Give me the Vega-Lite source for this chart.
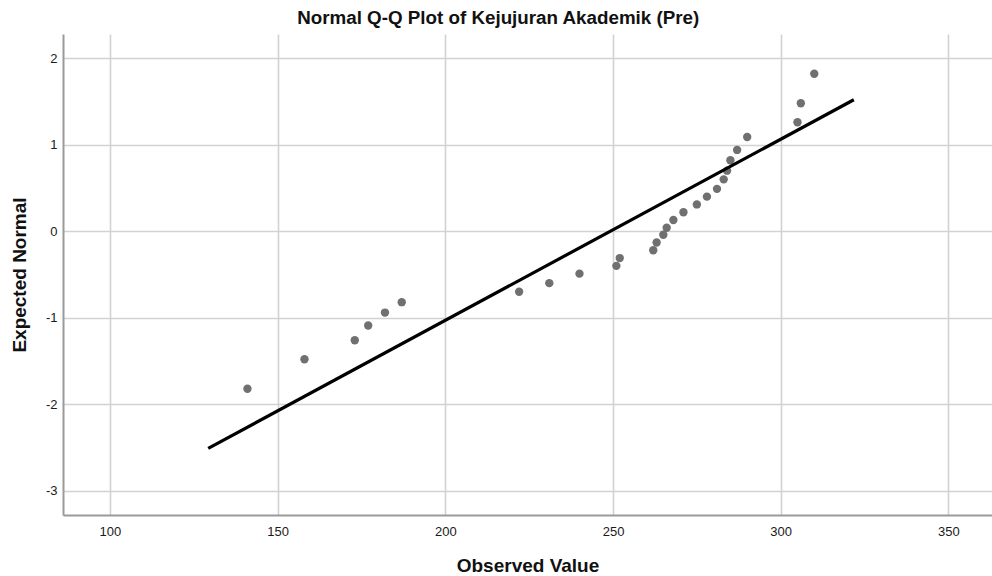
{
  "$schema": "https://vega.github.io/schema/vega-lite/v6.json",
  "autosize": {"type": "none"},
  "width": 929,
  "height": 481,
  "padding": {"left": 63, "top": 34, "right": 0, "bottom": 61},
  "background": "white",
  "config": {
    "font": "Liberation Sans",
    "view": {"stroke": null},
    "axis": {
      "labelFont": "Liberation Sans",
      "labelFontSize": 13,
      "labelColor": "#1a1a1a",
      "titleFont": "Liberation Sans",
      "titleFontSize": 19,
      "titleFontWeight": "bold",
      "titleColor": "#111111",
      "gridColor": "#d2d2d2",
      "gridWidth": 1.6,
      "domainColor": "#9a9a9a",
      "domainWidth": 2,
      "ticks": false
    }
  },
  "title": {
    "text": "Normal Q-Q Plot of Kejujuran Akademik (Pre)",
    "font": "Liberation Sans",
    "fontSize": 18.8,
    "fontWeight": "bold",
    "color": "#111111",
    "anchor": "middle",
    "frame": "bounds",
    "offset": 6,
    "dx": -3
  },
  "layer": [
    {
      "data": {
        "values": [
          {"observed": 141, "expected": -1.82},
          {"observed": 158, "expected": -1.48},
          {"observed": 173, "expected": -1.26},
          {"observed": 177, "expected": -1.09},
          {"observed": 182, "expected": -0.94},
          {"observed": 187, "expected": -0.82},
          {"observed": 222, "expected": -0.70},
          {"observed": 231, "expected": -0.60},
          {"observed": 240, "expected": -0.49},
          {"observed": 251, "expected": -0.40},
          {"observed": 252, "expected": -0.31},
          {"observed": 262, "expected": -0.22},
          {"observed": 263, "expected": -0.13},
          {"observed": 265, "expected": -0.04},
          {"observed": 266, "expected": 0.04},
          {"observed": 268, "expected": 0.13},
          {"observed": 271, "expected": 0.22},
          {"observed": 275, "expected": 0.31},
          {"observed": 278, "expected": 0.40},
          {"observed": 281, "expected": 0.49},
          {"observed": 283, "expected": 0.60},
          {"observed": 284, "expected": 0.70},
          {"observed": 285, "expected": 0.82},
          {"observed": 287, "expected": 0.94},
          {"observed": 290, "expected": 1.09},
          {"observed": 305, "expected": 1.26},
          {"observed": 306, "expected": 1.48},
          {"observed": 310, "expected": 1.82}
        ]
      },
      "mark": {"type": "circle", "size": 70, "color": "#707070", "opacity": 1},
      "encoding": {
        "x": {
          "field": "observed",
          "type": "quantitative",
          "scale": {"domain": [86, 363], "nice": false, "zero": false},
          "axis": {
            "title": "Observed Value",
            "values": [100, 150, 200, 250, 300, 350],
            "labelExpr": "'' + datum.value",
            "labelPadding": 10,
            "titlePadding": 18
          }
        },
        "y": {
          "field": "expected",
          "type": "quantitative",
          "scale": {"domain": [-3.28, 2.28], "nice": false, "zero": false},
          "axis": {
            "title": "Expected Normal",
            "values": [-3, -2, -1, 0, 1, 2],
            "labelExpr": "'' + datum.value",
            "labelPadding": 6,
            "titlePadding": 16
          }
        }
      }
    },
    {
      "data": {
        "values": [
          {"observed": 129.3, "expected": -2.51},
          {"observed": 321.8, "expected": 1.52}
        ]
      },
      "mark": {"type": "line", "color": "#000000", "strokeWidth": 3.2},
      "encoding": {
        "x": {"field": "observed", "type": "quantitative"},
        "y": {"field": "expected", "type": "quantitative"}
      }
    }
  ]
}
